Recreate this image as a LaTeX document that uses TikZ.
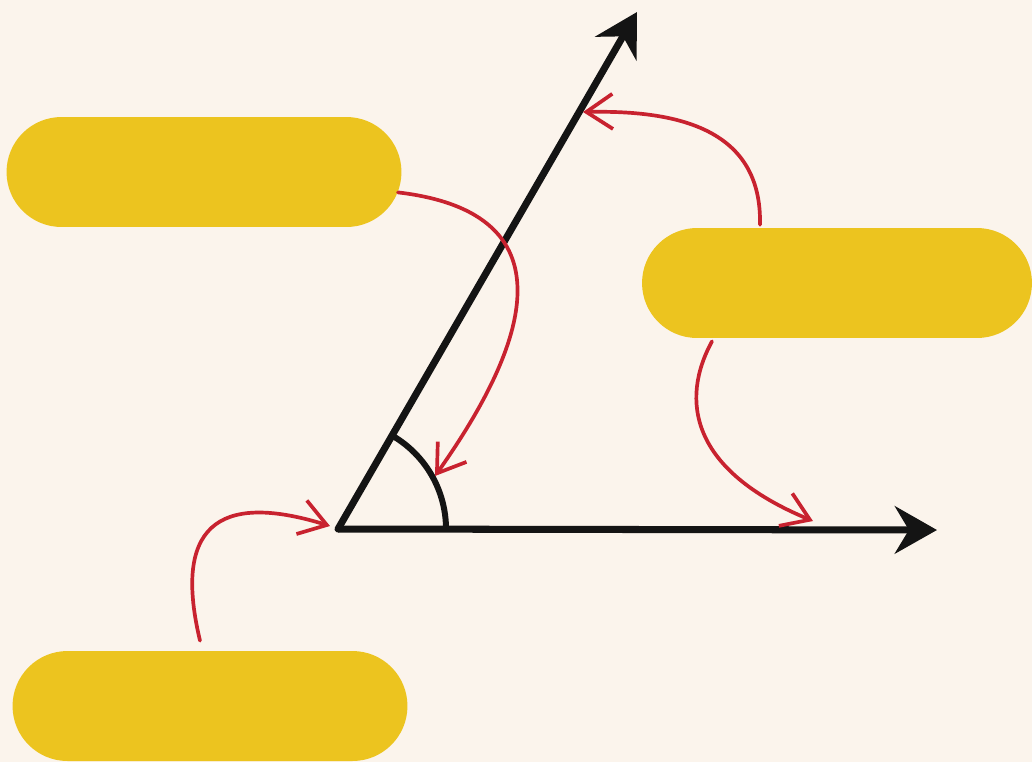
\documentclass[tikz,border=0pt]{standalone}
\usepackage{tikz}
\usetikzlibrary{arrows.meta,positioning,calc,shapes.misc}
\usepackage{xcolor}
\definecolor{cream}{HTML}{FBF4EC}
\definecolor{mustard}{HTML}{ECC41F}
\definecolor{ink}{HTML}{141414}
\definecolor{crimson}{HTML}{C8222F}
\tikzset{
  ray/.style={-{Stealth[length=24pt,width=27pt,inset=8pt]},line width=4pt,draw=ink},
  anglearc/.style={line width=3.4pt,draw=ink},
  pointer/.style={-{Straight Barb[length=15pt,width=20pt,line width=2.1pt]},line width=2.1pt,draw=crimson,line cap=round},
  pill/.style={rounded rectangle,fill=mustard,draw=none,minimum width=7.9cm,minimum height=2.2cm,inner sep=0pt},
}
\begin{document}
\begin{tikzpicture}[x=0.02cm,y=-0.02cm]
  \path[use as bounding box,fill=cream] (0,0) rectangle (1032,762);
  % the angle
  \coordinate (vertex) at (338,529);
  \coordinate (tipA) at (637,12);
  \coordinate (tipB) at (937,530);
  \draw[ray,line cap=round] (vertex)--(tipA);
  \draw[ray] (vertex)--(tipB);
  \draw[anglearc] ($(vertex)+(108,0)$) arc[start angle=0,end angle=-60,radius=108];
  % labels (empty)
  \node[pill] (arcbox) at (204,172) {};
  \node[pill,minimum width=7.8cm] (sidebox) at (837,283) {};
  \node[pill] (vertexbox) at (210,706) {};
  % pointers
  \coordinate (onarc) at (435,476);
  \coordinate (onray) at (583,112);
  \coordinate (onbase) at (813,521);
  \coordinate (atvertex) at (330,526);
  \draw[pointer] (arcbox.-6) .. controls (590,215) and (510,370) .. (onarc);
  \draw[pointer] ($(sidebox.north)+(-77,-3)$) .. controls (762,130) and (680,110) .. (onray);
  \draw[pointer] ($(sidebox.south)+(-125,3)$) .. controls (680,400) and (690,470) .. (onbase);
  \draw[pointer] ($(vertexbox.north)+(-10,-10)$) .. controls (170,515) and (230,495) .. (atvertex);
\end{tikzpicture}
\end{document}
